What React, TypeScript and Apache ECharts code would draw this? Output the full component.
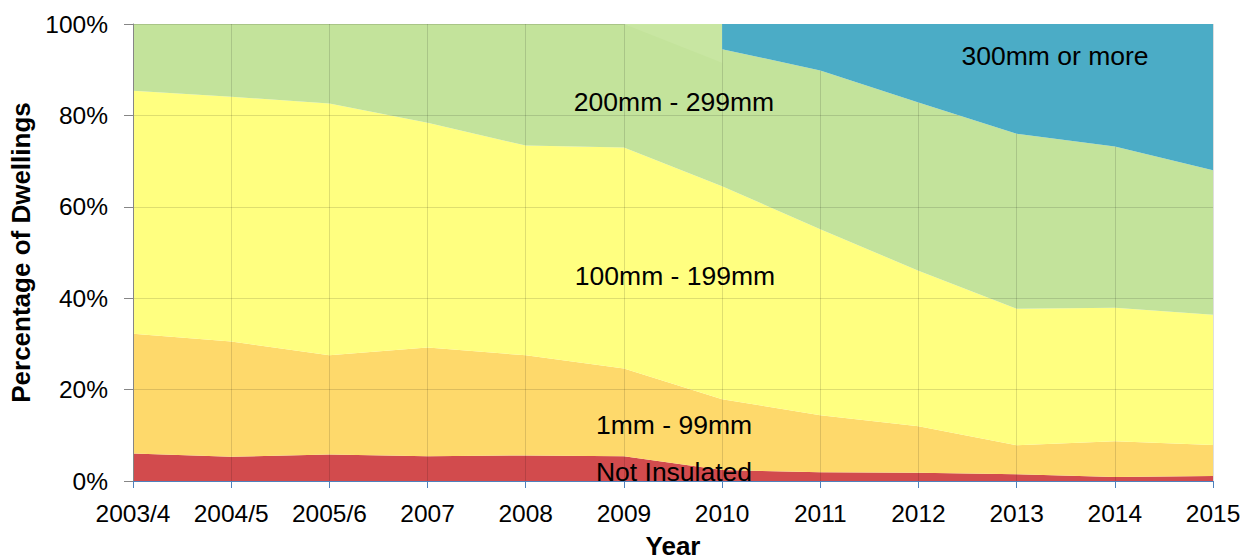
import React, { useEffect, useRef } from "react";
import * as echarts from "echarts";

// Survey years along the x axis
const years = ["2003/4", "2004/5", "2005/6", "2007", "2008", "2009", "2010", "2011", "2012", "2013", "2014", "2015"];

// Share of dwellings (%) by loft insulation thickness
const notInsulated = [6.0, 5.3, 5.8, 5.4, 5.6, 5.4, 2.4, 1.9, 1.8, 1.5, 0.9, 1.1];
const mm1to99 = [26.2, 25.2, 21.7, 23.8, 21.9, 19.2, 15.5, 12.5, 10.2, 6.3, 7.8, 6.8];
const mm100to199 = [53.2, 53.6, 55.1, 49.2, 45.9, 48.4, 46.6, 40.7, 34.0, 29.9, 29.2, 28.5];
const mm200to299 = [14.6, 15.9, 17.4, 21.6, 26.6, 27.0, 30.0, 34.7, 36.8, 38.3, 35.3, 31.6];
const mm300plus = [null, null, null, null, null, null, 5.5, 10.2, 17.2, 24.0, 26.8, 32.0];

// Upper edge of the 2009–2010 transition shading (filled up to 100%)
const transitionEdge = [null, null, null, null, null, 100, 91.5, null, null, null, null, null];

const yTicks = [0, 20, 40, 60, 80, 100];

const FONT = '"Liberation Sans", Arial, sans-serif';

export default function App() {
  const ref = useRef<HTMLDivElement>(null);

  useEffect(() => {
    if (!ref.current) return;
    const chart = echarts.init(ref.current, null, { renderer: "svg" });

    const area = (name: string, data: (number | null)[], color: string, z = 2) => ({
      name,
      type: "line",
      stack: "total",
      data,
      symbol: "none",
      z,
      lineStyle: { width: 0 },
      areaStyle: { color, opacity: 1 },
      itemStyle: { color },
    });

    const label = (text: string, x: number, y: number) => ({
      type: "text",
      x,
      y,
      z: 20,
      style: {
        text,
        fill: "#000",
        font: `26.5px ${FONT}`,
        textAlign: "center",
        textVerticalAlign: "middle",
      },
    });

    chart.setOption({
      animation: false,
      backgroundColor: "#fff",
      grid: {
        left: 133,
        right: 45,
        top: 24,
        bottom: 76,
        containLabel: false,
        outerBoundsMode: "none",
      },
      xAxis: {
        type: "category",
        data: years,
        boundaryGap: false,
        z: 3,
        name: "Year",
        nameLocation: "middle",
        nameGap: 52,
        nameTextStyle: { fontFamily: FONT, fontSize: 26, fontWeight: "bold", color: "#000" },
        axisLine: { show: true, lineStyle: { color: "#4f81bd", width: 1 } },
        axisTick: { show: true, length: 7, alignWithLabel: true, lineStyle: { color: "#4f81bd" } },
        axisLabel: { fontFamily: FONT, fontSize: 24.5, color: "#000", margin: 20 },
        splitLine: { show: true, lineStyle: { color: "rgba(0,0,0,0.13)", width: 1 } },
      },
      yAxis: {
        type: "value",
        min: yTicks[0],
        max: yTicks[yTicks.length - 1],
        interval: 20,
        z: 3,
        name: "Percentage of Dwellings",
        nameLocation: "middle",
        nameRotate: 90,
        nameGap: 97,
        nameTextStyle: { fontFamily: FONT, fontSize: 26, fontWeight: "bold", color: "#000" },
        axisLine: { show: true, lineStyle: { color: "#868686", width: 1 } },
        axisTick: { show: true, length: 9, lineStyle: { color: "#868686" } },
        axisLabel: { fontFamily: FONT, fontSize: 24.5, color: "#000", margin: 25, formatter: "{value}%" },
        splitLine: { show: true, lineStyle: { color: "rgba(0,0,0,0.13)", width: 1 } },
      },
      series: [
        area("Not Insulated", notInsulated, "#d24b4d"),
        area("1mm - 99mm", mm1to99, "#fed96b"),
        area("100mm - 199mm", mm100to199, "#ffff80"),
        area("200mm - 299mm", mm200to299, "#c3e39b"),
        area("300mm or more", mm300plus, "#4bacc6", 5),
        {
          name: "transition",
          type: "line",
          data: transitionEdge,
          symbol: "none",
          z: 4,
          lineStyle: { width: 0 },
          areaStyle: { color: "#c8e6a2", opacity: 1, origin: "end" },
          silent: true,
        },
      ],
      graphic: [
        label("300mm or more", 1055, 56),
        label("200mm - 299mm", 674, 102),
        label("100mm - 199mm", 675, 276),
        label("1mm - 99mm", 674, 425),
        label("Not Insulated", 674, 472),
      ],
    });

    return () => chart.dispose();
  }, []);

  return (
    <div
      ref={ref}
      style={{ position: "absolute", left: 0, top: 0, width: 1258, height: 557 }}
    />
  );
}
